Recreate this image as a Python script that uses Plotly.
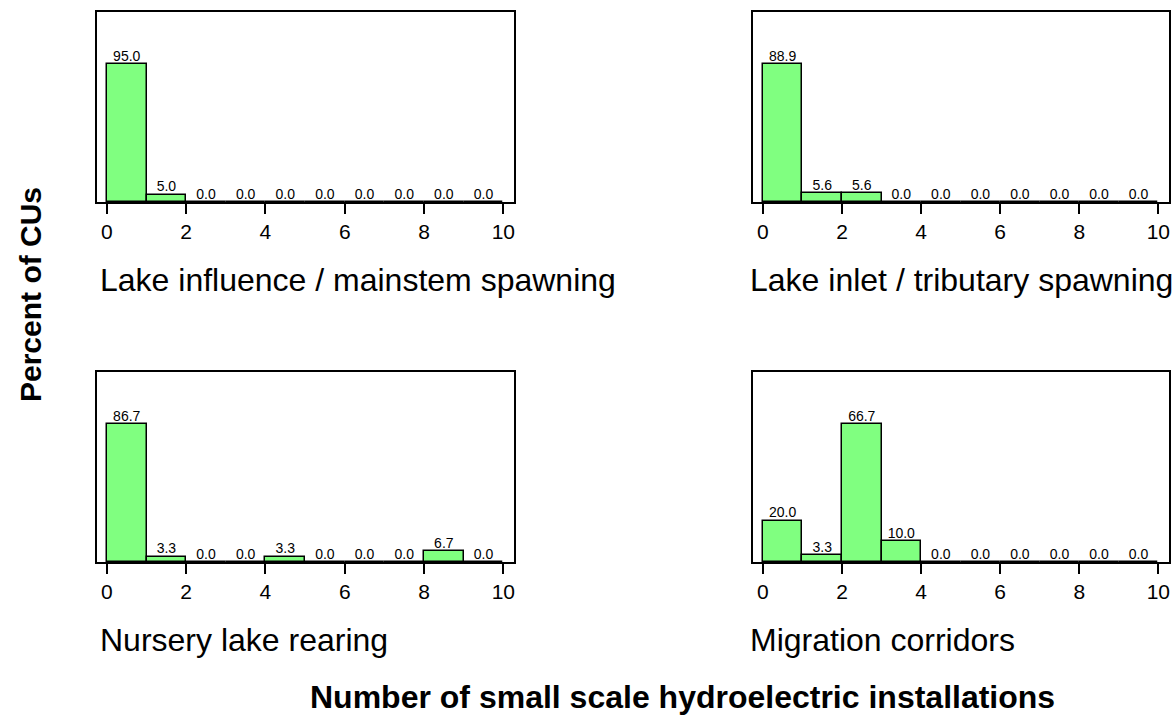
import plotly.graph_objects as go

# Data
bin_left = [0, 1, 2, 3, 4, 5, 6, 7, 8, 9]
panel_titles = [
    "Lake influence / mainstem spawning",
    "Lake inlet / tributary spawning",
    "Nursery lake rearing",
    "Migration corridors",
]
pct_lake_influence = [95.0, 5.0, 0.0, 0.0, 0.0, 0.0, 0.0, 0.0, 0.0, 0.0]
pct_lake_inlet = [88.9, 5.6, 5.6, 0.0, 0.0, 0.0, 0.0, 0.0, 0.0, 0.0]
pct_nursery = [86.7, 3.3, 0.0, 0.0, 3.3, 0.0, 0.0, 0.0, 6.7, 0.0]
pct_migration = [20.0, 3.3, 66.7, 10.0, 0.0, 0.0, 0.0, 0.0, 0.0, 0.0]
x_ticks = [0, 2, 4, 6, 8, 10]
y_title = "Percent of CUs"
x_title = "Number of small scale hydroelectric installations"

series = [pct_lake_influence, pct_lake_inlet, pct_nursery, pct_migration]

W, H = 1176, 715
FONT = "Liberation Sans, Arial, Helvetica, sans-serif"


def px_x(p):
    return min(1.0, max(0.0, p / W))


def px_y(p):
    return min(1.0, max(0.0, 1 - p / H))


# panel boxes in page pixels: (left, right, top, bottom)
boxes = [
    (97, 514, 12, 202),
    (753, 1169, 12, 202),
    (97, 514, 372, 562),
    (753, 1169, 372, 562),
]
title_pos = [(98, 280), (748, 280), (98, 640), (748, 640)]

fig = go.Figure()
centers = [b + 0.5 for b in bin_left]

for i, vals in enumerate(series):
    ax = "" if i == 0 else str(i + 1)
    fig.add_trace(go.Bar(
        x=centers, y=vals, width=1.0,
        marker=dict(color="#80FF80", line=dict(color="black", width=1.5)),
        xaxis="x" + ax, yaxis="y" + ax, showlegend=False, hoverinfo="skip",
    ))
    fig.add_trace(go.Scatter(
        x=centers, y=vals, mode="text",
        text=["%.1f" % v for v in vals], textposition="top center",
        textfont=dict(family=FONT, size=14, color="black"),
        xaxis="x" + ax, yaxis="y" + ax, showlegend=False, hoverinfo="skip",
        cliponaxis=False,
    ))
    l, r, t, b = boxes[i]
    ymax = max(vals) * 1.38
    fig.layout["xaxis" + ax] = dict(
        domain=[px_x(l), px_x(r)], range=[-0.25, 10.27],
        anchor="y" + ax, showline=True, mirror=True, linecolor="black", linewidth=1.5,
        ticks="outside", ticklen=10, tickwidth=1.5, tickcolor="black",
        tickvals=x_ticks, ticktext=[str(v) for v in x_ticks],
        tickfont=dict(family=FONT, size=21, color="black"),
        showgrid=False, zeroline=False, fixedrange=True,
    )
    fig.layout["yaxis" + ax] = dict(
        domain=[px_y(b), px_y(t)], range=[0, ymax],
        anchor="x" + ax, showline=True, mirror=True, linecolor="black", linewidth=1.5,
        ticks="", showticklabels=False, showgrid=False, zeroline=False, fixedrange=True,
    )
    tx, ty = title_pos[i]
    fig.add_annotation(
        x=px_x(tx), y=px_y(ty), xref="paper", yref="paper",
        xanchor="left", yanchor="middle", showarrow=False,
        text=panel_titles[i], font=dict(family=FONT, size=32, color="black"),
    )

fig.add_annotation(
    x=px_x(682), y=px_y(697), xref="paper", yref="paper",
    xanchor="center", yanchor="middle", showarrow=False,
    text="<b>" + x_title + "</b>", font=dict(family=FONT, size=32, color="black"),
)
fig.add_annotation(
    x=px_x(30), y=px_y(295), xref="paper", yref="paper",
    xanchor="center", yanchor="middle", showarrow=False, textangle=-90,
    text="<b>" + y_title + "</b>", font=dict(family=FONT, size=30, color="black"),
)

fig.update_layout(
    width=W, height=H, margin=dict(l=0, r=0, t=0, b=0),
    paper_bgcolor="white", plot_bgcolor="white", bargap=0,
)

fig.write_html(
    "out.html",
    config={"displayModeBar": False},
    post_script="document.body.style.margin='0px';document.body.style.overflow='hidden';",
)
